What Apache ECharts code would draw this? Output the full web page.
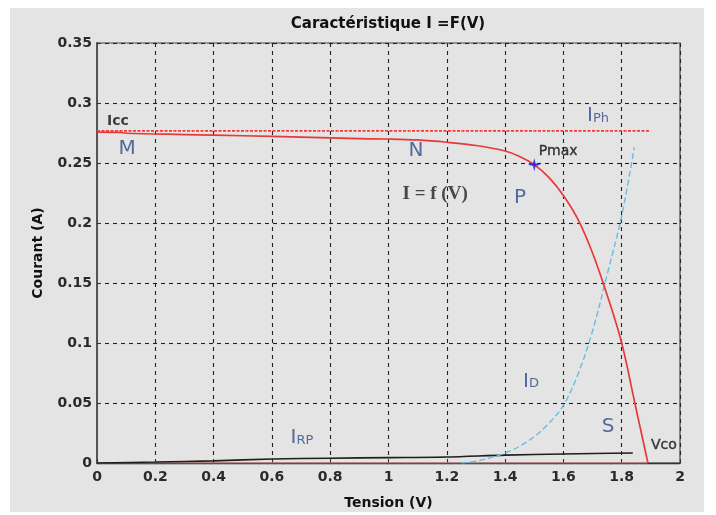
<!DOCTYPE html>
<html><head><meta charset="utf-8">
<script src="https://cdn.jsdelivr.net/npm/echarts@6/dist/echarts.min.js"></script>
<style>
html,body{margin:0;padding:0;background:#fff;}
#bg{position:absolute;left:10px;top:8px;width:694px;height:504px;background:#e4e4e4;}
#main{position:absolute;left:0;top:0;width:716px;height:515px;}
</style></head>
<body><div id="bg"></div><div id="main"></div>
<script>
// ---- data ----
const xTicks = [0, 0.2, 0.4, 0.6, 0.8, 1, 1.2, 1.4, 1.6, 1.8, 2];
const yTicks = [0, 0.05, 0.1, 0.15, 0.2, 0.25, 0.3, 0.35];

// I = f(V) characteristic
const ivV = [0, 0.08, 0.1, 0.3, 0.5, 0.7, 0.9, 1.0, 1.1, 1.2, 1.3, 1.4, 1.45, 1.5, 1.55, 1.6, 1.65, 1.7, 1.75, 1.8, 1.845, 1.89];
const ivI = [0.2758, 0.2756, 0.2748, 0.2737, 0.2727, 0.2715, 0.2703, 0.2700, 0.2692, 0.2673, 0.2646, 0.2600, 0.2555, 0.2486, 0.2380, 0.2230, 0.2030, 0.1750, 0.1400, 0.1000, 0.0500, 0];

// Photo current I_Ph
const iphV = [0, 1.895];
const iphI = [0.2768, 0.2768];

// Diode current I_D
const idV = [1.25, 1.3, 1.35, 1.4, 1.45, 1.5, 1.55, 1.6, 1.65, 1.7, 1.75, 1.8, 1.843];
const idI = [0, 0.0015, 0.0045, 0.0083, 0.0140, 0.022, 0.033, 0.048, 0.074, 0.110, 0.157, 0.206, 0.263];

// Parallel resistance current I_RP
const irpV = [0, 0.2, 0.4, 0.6, 0.8, 1.0, 1.2, 1.4, 1.6, 1.838];
const irpI = [0, 0.0008, 0.0018, 0.0033, 0.0040, 0.0045, 0.0050, 0.0066, 0.0075, 0.0083];

// zero-current baseline
const baseV = [0, 1.89];
const baseI = [0, 0];

// maximum power point
const pmaxV = [1.5];
const pmaxI = [0.2486];

// annotations
const noteText = ['Icc', 'M', 'N', 'I = f (V)', 'P', 'Pmax', 'IPh', 'ID', 'S', 'Vco', 'IRP'];
const noteX = [0.072, 0.103, 1.094, 1.16, 1.451, 1.582, 1.719, 1.489, 1.753, 1.945, 0.703];
const noteY = [0.285, 0.262, 0.260, 0.224, 0.221, 0.260, 0.289, 0.068, 0.030, 0.015, 0.021];

// ---- chart ----
const zip = (a, b) => a.map((v, i) => [v, b[i]]);
const SANS = 'DejaVu Sans';
const letterColor = '#2d4a88';
const letterStyle = {color: letterColor, fontFamily: SANS, fontSize: 20, textShadowColor: '#d08a2a', textShadowOffsetX: -1.3, textShadowBlur: 0};

function noteLabel(t) {
  const base = {show: true, position: 'inside'};
  if (t === 'Icc' || t === 'Pmax' || t === 'Vco') {
    return Object.assign(base, {formatter: t, color: '#111', fontFamily: SANS, fontSize: 14, fontWeight: t === 'Icc' ? 'bold' : 'normal', textBorderColor: '#111', textBorderWidth: t === 'Icc' ? 0 : 0.4});
  }
  if (t === 'I = f (V)') {
    return Object.assign(base, {formatter: t, color: '#1e1e1e', fontFamily: 'Liberation Serif', fontSize: 19, fontWeight: 'bold'});
  }
  if (t.length > 1 && t[0] === 'I') {
    const sub = t.slice(1);
    return Object.assign(base, {
      formatter: '{a|I}{b|' + sub + '}',
      rich: {
        a: Object.assign({}, letterStyle, {fontSize: 20, verticalAlign: 'bottom'}),
        b: Object.assign({}, letterStyle, {fontSize: 13, verticalAlign: 'bottom', padding: [0, 0, 1, 0]})
      }
    });
  }
  return Object.assign(base, {formatter: t}, letterStyle);
}

const chart = echarts.init(document.getElementById('main'), null, {renderer: 'canvas'});
const gridLine = {show: true, lineStyle: {color: '#222', type: [4, 4], width: 1.1}};
const tickLabel = {color: '#2a2a2a', fontFamily: SANS, fontSize: 14, fontWeight: 'bold'};

chart.setOption({
  animation: false,
  backgroundColor: 'transparent',
  title: {
    text: 'Caractéristique I =F(V)',
    left: 383, top: 12, textAlign: 'center',
    textStyle: {fontFamily: SANS, fontWeight: 'bold', fontSize: 15, color: '#111'}
  },
  grid: {left: 97, right: 36, top: 43, bottom: 51, show: true, borderColor: '#444', borderWidth: 1.2, backgroundColor: 'transparent'},
  xAxis: {
    type: 'value', min: xTicks[0], max: xTicks[xTicks.length - 1], interval: 0.2,
    axisLine: {show: true, onZero: false, lineStyle: {color: '#333', width: 1.4}},
    axisTick: {show: true, inside: true, length: 4, lineStyle: {color: '#333'}},
    axisLabel: Object.assign({margin: 7, formatter: v => String(+v.toFixed(2))}, tickLabel),
    splitLine: gridLine,
    name: 'Tension (V)', nameLocation: 'middle', nameGap: 33,
    nameTextStyle: {fontFamily: SANS, fontWeight: 'bold', fontSize: 14, color: '#111'}
  },
  yAxis: {
    type: 'value', min: yTicks[0], max: yTicks[yTicks.length - 1], interval: 0.05,
    axisLine: {show: true, lineStyle: {color: '#555', width: 2}},
    axisTick: {show: true, inside: true, length: 4, lineStyle: {color: '#333'}},
    axisLabel: Object.assign({margin: 5, formatter: v => String(+v.toFixed(2))}, tickLabel),
    splitLine: gridLine,
    name: 'Courant (A)', nameLocation: 'middle', nameGap: 52, nameRotate: 90,
    nameTextStyle: {fontFamily: SANS, fontWeight: 'bold', fontSize: 14, color: '#111'}
  },
  series: [
    {type: 'line', name: 'base', data: zip(baseV, baseI), showSymbol: false, lineStyle: {color: '#f29a9a', width: 1.2}, z: 3},
    {type: 'line', name: 'IRP', data: zip(irpV, irpI), showSymbol: false, smooth: 0.3, lineStyle: {color: '#1e1e1e', width: 1.6}, z: 4},
    {type: 'line', name: 'ID', data: zip(idV, idI), showSymbol: false, smooth: 0.35, lineStyle: {color: '#66bde0', width: 1.4, type: [6, 3]}, z: 4},
    {type: 'line', name: 'IPh', data: zip(iphV, iphI), showSymbol: false, lineStyle: {color: '#f03a3a', width: 1.7, type: [3, 1.5]}, z: 5},
    {type: 'line', name: 'IV', data: zip(ivV, ivI), showSymbol: false, smooth: 0.35, lineStyle: {color: '#e8393a', width: 1.7}, z: 6},
    {type: 'scatter', name: 'Pmax', data: zip(pmaxV, pmaxI),
     symbol: 'path://M0,-6 L1.3,-1.3 L6,0 L1.3,1.3 L0,6 L-1.3,1.3 L-6,0 L-1.3,-1.3 Z',
     symbolSize: 13, itemStyle: {color: '#1a1aee'}, z: 7},
    {type: 'scatter', name: 'notes', symbolSize: 1, itemStyle: {color: 'rgba(0,0,0,0)'}, z: 8,
     data: noteText.map((t, i) => ({value: [noteX[i], noteY[i]], label: noteLabel(t)}))}
  ]
});
</script>
</body></html>
